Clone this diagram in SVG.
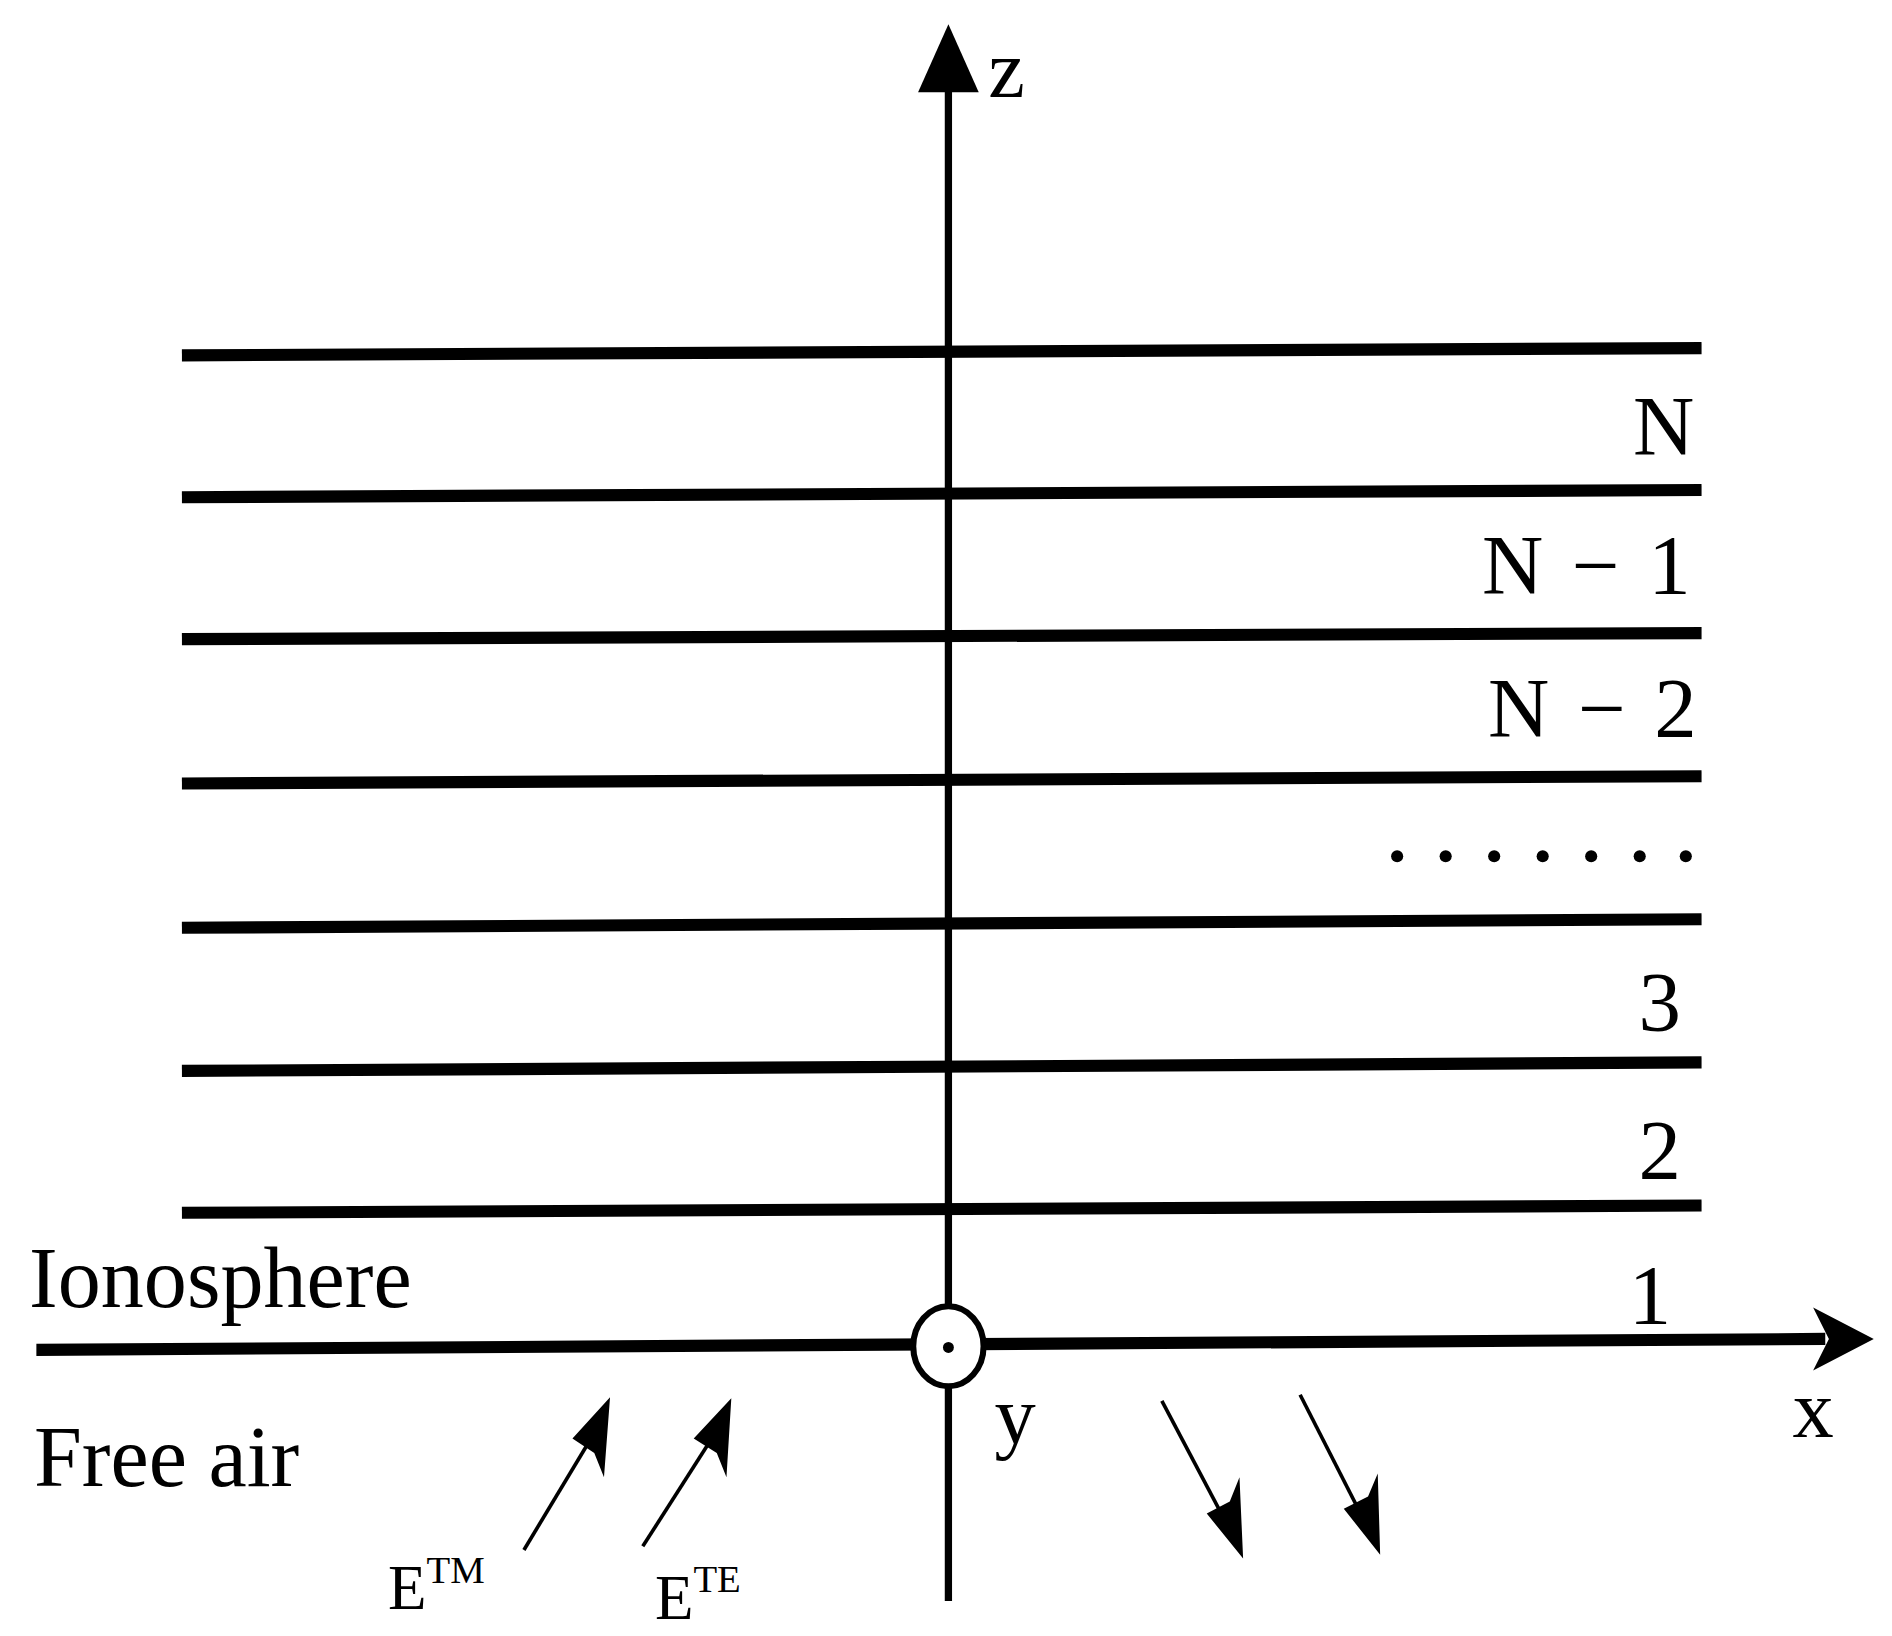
<svg xmlns="http://www.w3.org/2000/svg" width="1892" height="1636" viewBox="0 0 1892 1636">
<style>
.t{font-family:"Liberation Serif","Times New Roman",serif;fill:#000}
.lay{stroke:#000;stroke-width:10;fill:none}
.thin{stroke:#000;stroke-width:3;fill:none}
</style>
<rect width="1892" height="1636" fill="#fff"/>
<g transform="scale(1.2128)">
<g id="layers">
<line class="lay" x1="150" y1="293" x2="1403" y2="287"/>
<line class="lay" x1="150" y1="410" x2="1403" y2="404"/>
<line class="lay" x1="150" y1="527" x2="1403" y2="522"/>
<line class="lay" x1="150" y1="646" x2="1403" y2="640"/>
<line class="lay" x1="150" y1="765" x2="1403" y2="758"/>
<line class="lay" x1="150" y1="883" x2="1403" y2="876"/>
<line class="lay" x1="150" y1="1000" x2="1403" y2="994"/>
</g>
<g id="connectors">
<line x1="782" y1="70" x2="782" y2="1320" stroke="#000" stroke-width="6"/>
<polygon points="782,20 807,76 757,76" fill="#000"/>
<line x1="30" y1="1113" x2="1505" y2="1104" stroke="#000" stroke-width="10"/>
<polygon points="1545,1104 1495,1078 1508,1104 1495,1130" fill="#000"/>
<line class="thin" x1="432" y1="1278" x2="494" y2="1175"/>
<polygon points="503,1152 498,1218 490,1198 472,1186" fill="#000"/>
<line class="thin" x1="530" y1="1275" x2="594" y2="1175"/>
<polygon points="603,1153 599,1218 591,1198 572,1186" fill="#000"/>
<line class="thin" x1="958" y1="1155" x2="1016" y2="1265"/>
<polygon points="1025,1285 1022,1218 1014,1238 995,1248" fill="#000"/>
<line class="thin" x1="1072" y1="1150" x2="1129" y2="1262"/>
<polygon points="1138,1282 1136,1215 1128,1234 1108,1244" fill="#000"/>
</g>
<g id="origin">
<ellipse cx="782" cy="1110" rx="29" ry="33" fill="#fff" stroke="#000" stroke-width="5"/>
<circle cx="782" cy="1111" r="4.5" fill="#000"/>
</g>
<g id="labels" class="t">
<text x="845" y="80" font-size="68" text-anchor="end">z</text>
<text x="1397" y="375" font-size="70" text-anchor="end">N</text>
<text x="1397" y="490" font-size="70" text-anchor="end" letter-spacing="3">N − 1</text>
<text x="1402" y="608" font-size="70" text-anchor="end" letter-spacing="3">N − 2</text>
<g fill="#000">
<circle cx="1152" cy="706" r="5"/><circle cx="1192" cy="706" r="5"/><circle cx="1232" cy="706" r="5"/><circle cx="1272" cy="706" r="5"/><circle cx="1312" cy="706" r="5"/><circle cx="1352" cy="706" r="5"/><circle cx="1390" cy="706" r="5"/>
</g>
<text x="1386" y="850" font-size="70" text-anchor="end">3</text>
<text x="1386" y="972" font-size="70" text-anchor="end">2</text>
<text x="1378" y="1092" font-size="70" text-anchor="end">1</text>
<text x="24" y="1078" font-size="71">Ionosphere</text>
<text x="28" y="1225" font-size="71">Free air</text>
<text x="820" y="1190" font-size="68">y</text>
<text x="1478" y="1185" font-size="68">x</text>
<text x="320" y="1327" font-size="52">E<tspan font-size="32" dy="-22">TM</tspan></text>
<text x="540" y="1335" font-size="52">E<tspan font-size="32" dy="-22">TE</tspan></text>
</g>
</g>
</svg>
